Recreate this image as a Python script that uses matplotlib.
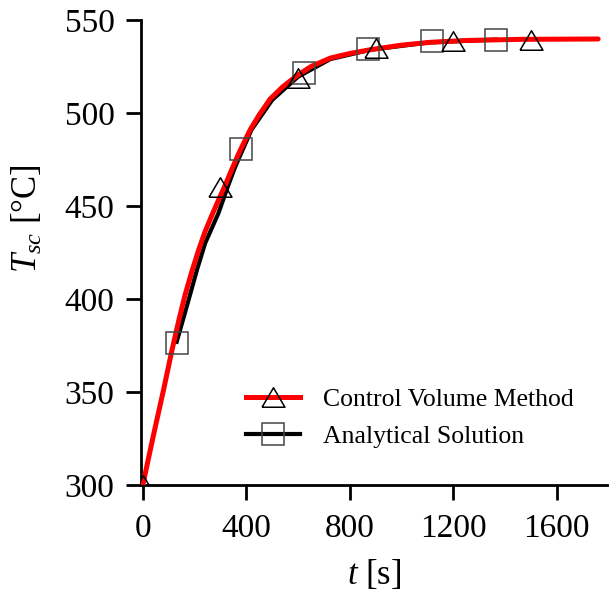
import matplotlib
matplotlib.use('Agg')
import matplotlib.pyplot as plt
from matplotlib.lines import Line2D

plt.rcParams['font.family'] = ['Liberation Serif', 'DejaVu Serif']
plt.rcParams['mathtext.fontset'] = 'custom'
plt.rcParams['mathtext.rm'] = 'Liberation Serif'
plt.rcParams['mathtext.it'] = 'Liberation Serif:italic'

# control volume method (red curve)
cvm_t = [0, 40, 80, 112, 140, 163, 190, 215, 240, 267, 292, 318, 345, 370, 415, 450,
         492, 540, 595, 650, 724, 800, 878, 1000, 1110, 1250, 1458, 1760]
cvm_T = [300, 326, 351, 372, 389, 402, 415, 426, 436, 445, 453, 461, 470, 478, 491, 499,
         507.5, 514, 520, 525, 529.5, 532, 534, 536.5, 538, 539, 539.6, 539.8]
# control volume markers
cvm_mt = [0, 300, 600, 900, 1200, 1500]
cvm_mT = [300, 460, 519, 535, 538.5, 539.4]

# analytical solution (black curve)
ana_t = [131, 176, 210, 241, 292, 330, 357, 420, 500, 600, 725, 880, 1110, 1364]
ana_T = [377, 399, 416, 430, 446, 461, 471, 491, 507, 519.5, 529, 534, 538, 539.5]
# analytical markers
ana_mt = [131, 378, 624, 871, 1118, 1364]
ana_mT = [376.5, 480.4, 521.4, 534.6, 538.5, 539.5]

xticks = [0, 400, 800, 1200, 1600]
yticks = [300, 350, 400, 450, 500, 550]

tri = [(-1, -0.85), (1, -0.85), (0, 0.85), (-1, -0.85)]

fig = plt.figure(figsize=(6.09, 5.94), dpi=100)
ax = fig.add_axes([0.2315, 0.1835, 0.7685, 0.7828])

ax.plot(ana_t, ana_T, color='black', linewidth=3.0, zorder=2)
ax.plot(cvm_t, cvm_T, color='red', linewidth=3.6, solid_capstyle='round',
        solid_joinstyle='round', zorder=3)
ax.plot(ana_mt, ana_mT, linestyle='none', marker='s', markersize=16,
        mfc='none', mec='#444444', mew=1.1, zorder=4)
ax.plot(cvm_mt, cvm_mT, linestyle='none', marker=tri, markersize=16.5,
        mfc='none', mec='black', mew=1.1, zorder=4)

ax.set_xlim(-7, 1802)
ax.set_ylim(300, 550)
ax.set_xticks(xticks)
ax.set_yticks(yticks)

for s in ['top', 'right']:
    ax.spines[s].set_visible(False)
for s in ['left', 'bottom']:
    ax.spines[s].set_linewidth(2.0)
ax.tick_params(direction='out', length=10.5, width=2.0, labelsize=24)
ax.tick_params(axis='x', pad=10)
ax.tick_params(axis='y', pad=8.5)

ax.set_xlabel(r'$t$ [s]', fontsize=25)
ax.set_ylabel(r'$T_{sc}$ [°C]', fontsize=25)
ax.xaxis.set_label_coords(0.498, -0.158)
ax.yaxis.set_label_coords(-0.205, 0.572)

h1 = Line2D([], [], color='red', linewidth=3.6, marker=tri, markersize=16.5,
            mfc='none', mec='black', mew=1.1)
h2 = Line2D([], [], color='black', linewidth=3.0, marker='s', markersize=16,
            mfc='none', mec='#444444', mew=1.1)
ax.legend([h1, h2], ['Control Volume Method', 'Analytical Solution'],
          loc='lower left', bbox_to_anchor=(0.175, 0.03), frameon=False,
          fontsize=18.5, handlelength=2.1, handletextpad=0.9, labelspacing=0.55)

fig.savefig('out.png', dpi=100)
